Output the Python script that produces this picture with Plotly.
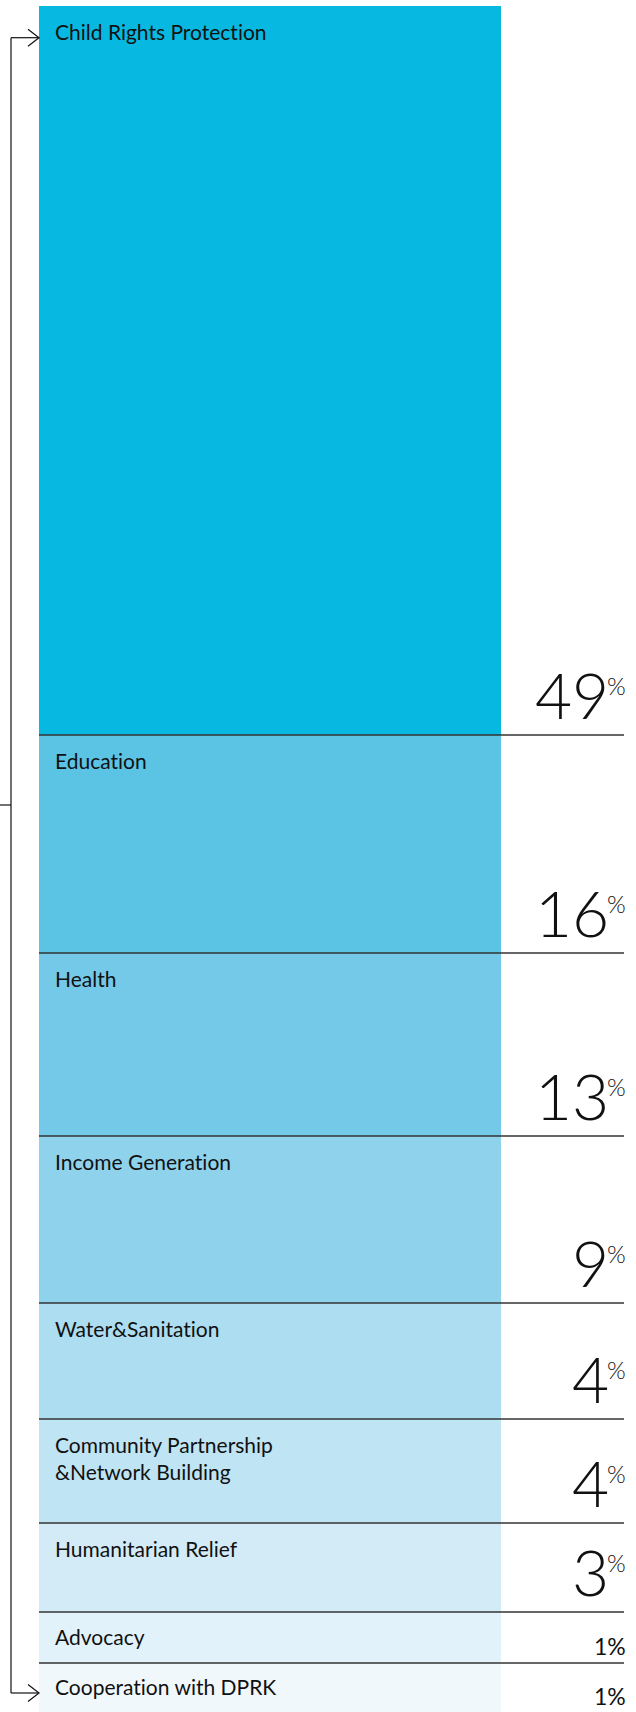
import plotly.graph_objects as go

# ---- data ----
categories = [
    "Child Rights Protection",
    "Education",
    "Health",
    "Income Generation",
    "Water&Sanitation",
    "Community Partnership<br>&Network Building",
    "Humanitarian Relief",
    "Advocacy",
    "Cooperation with DPRK",
]
shares = [49, 16, 13, 9, 4, 4, 3, 1, 1]
# visual block heights of the infographic (relative units)
block_heights = [729, 218, 183, 167, 116, 104, 89, 51, 49]
colors = ["#07B9E1", "#5BC4E5", "#75C9E8", "#8FD2EC", "#ADDDF0",
          "#BFE4F4", "#D3EBF7", "#E2F2FA", "#F1F8FC"]

W, H = 636, 1712
TOP_PX = 6
BAR_L, BAR_R, LINE_R = 39, 501, 624

total = sum(block_heights)
unit_per_px = total / (H - TOP_PX)
px_per_unit_x = BAR_R - BAR_L
xa = -0.5 - BAR_L / px_per_unit_x
xb = xa + W / px_per_unit_x

def px(v):
    return v / W

def py(v):
    return 1 - v / H

fig = go.Figure()
for cat, h, c, s in zip(categories, block_heights, colors, shares):
    fig.add_trace(go.Bar(x=[0], y=[h], width=1, marker=dict(color=c, line=dict(width=0)),
                         name=cat.replace("<br>", " "), hovertext=f"{s}%", hoverinfo="name+text"))

FONT = "Lato"
annotations = []
shapes = []
tops = []
acc = 0
for h in block_heights:
    tops.append(acc)
    acc += h
bottoms = [t + h for t, h in zip(tops, block_heights)]

for i, (cat, s, t, b) in enumerate(zip(categories, shares, tops, bottoms)):
    if s > 1:
        annotations.append(dict(x=px(53), xref="paper", y=t, yref="y", yanchor="top", xanchor="left",
                                yshift=-11, text=cat, showarrow=False, align="left",
                                font=dict(family=FONT, size=21, color="#111")))
        annotations.append(dict(x=px(611), xref="paper", y=b, yref="y", yanchor="bottom", xanchor="right",
                                yshift=0, text=str(s), showarrow=False,
                                font=dict(family=FONT, size=64, color="#111", weight=300)))
        annotations.append(dict(x=px(628), xref="paper", y=b, yref="y", yanchor="top", xanchor="right",
                                yshift=66, text="%", showarrow=False,
                                font=dict(family=FONT, size=24, color="#111", weight=300)))
    else:
        mid = (t + b) / 2
        annotations.append(dict(x=px(53), xref="paper", y=mid, yref="y", yanchor="middle", xanchor="left",
                                yshift=1, text=cat, showarrow=False, align="left",
                                font=dict(family=FONT, size=21, color="#111")))
        annotations.append(dict(x=px(628), xref="paper", y=mid, yref="y", yanchor="middle", xanchor="right",
                                yshift=-8, text=f"{s}%", showarrow=False,
                                font=dict(family=FONT, size=23, color="#111")))
    if i < len(categories) - 1:
        shapes.append(dict(type="line", xref="paper", yref="y", x0=px(BAR_L), x1=px(LINE_R), y0=b, y1=b,
                           line=dict(color="#333333", width=1.5)))

# bracket with arrows on the left
ytop, ybot, ystub, xv, xt = 37.7, 1693, 805, 11, 39
bracket = dict(color="#111", width=1.2)
shapes += [
    dict(type="line", xref="paper", yref="paper", x0=px(xv), x1=px(xv), y0=py(ytop), y1=py(ybot), line=bracket),
    dict(type="line", xref="paper", yref="paper", x0=px(xv), x1=px(xt), y0=py(ytop), y1=py(ytop), line=bracket),
    dict(type="line", xref="paper", yref="paper", x0=px(xv), x1=px(xt), y0=py(ybot), y1=py(ybot), line=bracket),
    dict(type="line", xref="paper", yref="paper", x0=px(0), x1=px(xv), y0=py(ystub), y1=py(ystub), line=bracket),
]
for yy in (ytop, ybot):
    shapes.append(dict(type="path", xref="paper", yref="paper",
                       path=f"M {px(xt-11)},{py(yy-8.5)} L {px(xt)},{py(yy)} L {px(xt-11)},{py(yy+8.5)}",
                       line=bracket))

fig.update_layout(
    width=W, height=H,
    margin=dict(l=0, r=0, t=0, b=0),
    barmode="stack",
    bargap=0,
    showlegend=False,
    paper_bgcolor="white",
    plot_bgcolor="white",
    xaxis=dict(range=[xa, xb], visible=False, fixedrange=True),
    yaxis=dict(range=[total, -TOP_PX * unit_per_px], visible=False, fixedrange=True),
    annotations=annotations,
    shapes=shapes,
)

post = (
    "document.body.style.margin='0';"
    "document.documentElement.style.margin='0';"
    "var st=document.createElement('style');"
    "st.textContent='text{font-variant-ligatures:none !important;font-feature-settings:\"liga\" 0,\"clig\" 0 !important;}';"
    "document.head.appendChild(st);"
)
fig.write_html("out.html", post_script=post, config={"displayModeBar": False})
